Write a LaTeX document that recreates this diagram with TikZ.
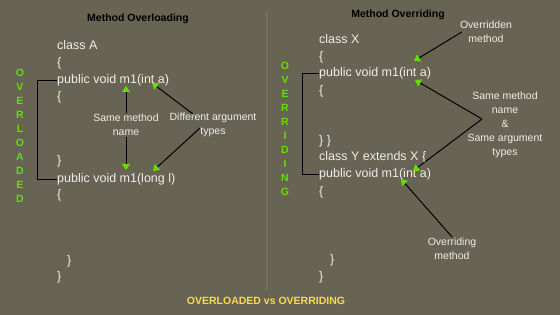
\documentclass[tikz,border=0pt]{standalone}
\usepackage{fontspec}
\setmainfont{Liberation Sans}
\usetikzlibrary{arrows.meta}
\definecolor{bgcol}{RGB}{103,100,84}
\definecolor{divcol}{RGB}{113,110,96}
\definecolor{codecol}{RGB}{238,238,232}
\definecolor{lettergreen}{RGB}{102,221,0}
\definecolor{titleyellow}{RGB}{250,218,80}
\begin{document}
\begin{tikzpicture}[x=1pt, y=-1pt,
    code/.style={anchor=base west, inner sep=0pt, text=codecol, font=\fontsize{12.5}{15}\selectfont},
    note/.style={align=center, inner sep=1pt, text=codecol, font=\fontsize{10.5}{14}\selectfont},
    heading/.style={font=\fontsize{10.5}{13}\selectfont\bfseries},
    vletter/.style={inner sep=0pt, text=lettergreen, font=\fontsize{10.5}{12}\selectfont\bfseries},
    pointer/.style={line width=1pt, -{Triangle[width=8pt, length=6pt, color=lettergreen]}},
    bracket/.style={line width=1pt}]
    % Background
    \fill[bgcol] (0,0) rectangle (560,315);
    \useasboundingbox (0,0) rectangle (560,315);
    \draw[divcol, line width=1.2pt] (267,10) -- (267,290);

    % Headings
    \node[heading] (hload) at (138,19) {Method Overloading};
    \node[heading] (hride) at (398,15) {Method Overriding};
    \node[heading, text=titleyellow] (foot) at (266,301) {OVERLOADED vs OVERRIDING};

    % Overloading code
    \node[code] (ca) at (57,50) {class A};
    \node[code] (ob1) at (57,67) {\{};
    \node[code] (pa1) at (57,83.5) {public void m1(int a)};
    \node[code] (ob2) at (57,101) {\{};
    \node[code] (cb1) at (57,164.5) {\}};
    \node[code] (pa2) at (57,182.5) {public void m1(long l)};
    \node[code] (ob3) at (57,198.5) {\{};
    \node[code] (cb2) at (67,265) {\}};
    \node[code] (cb3) at (57,281) {\}};

    % Overriding code
    \node[code] (cx) at (319,43.5) {class X};
    \node[code] (xb1) at (319,60.5) {\{};
    \node[code] (px1) at (319,76.5) {public void m1(int a)};
    \node[code] (xb2) at (319,94.5) {\{};
    \node[code] (xb3) at (319,144.5) {\} \}};
    \node[code] (cy) at (319,160.5) {class Y extends X \{};
    \node[code] (px2) at (319,178) {public void m1(int a)};
    \node[code] (yb1) at (319,195.5) {\{};
    \node[code] (yb2) at (330,263.5) {\}};
    \node[code] (yb3) at (319,280.5) {\}};

    % Vertical words
    \foreach \ch [count=\i] in {O,V,E,R,L,O,A,D,E,D}
        \node[vletter] (ld\i) at (20,59+14*\i) {\ch};
    \foreach \ch [count=\i] in {O,V,E,R,R,I,D,I,N,G}
        \node[vletter] (rd\i) at (285,52+14*\i) {\ch};

    % Brackets
    \draw[bracket] (pa1.west) -- ++(-20,0) |- (pa2.west);
    \draw[bracket] (px1.west) -- ++(-17,0) |- (px2.west);

    % Notes
    \node[note] (same) at (126,125) {Same method\\name};
    \node[note] (diff) at (213,125) {Different argument\\types};
    \node[note] (ovn) at (486,32) {Overridden\\method};
    \node[note] (samesig) at (505,125) {Same method\\name\\\&\\Same argument\\types};
    \node[note] (ovg) at (452,249) {Overriding\\method};

    % Arrow ends
    \coordinate (sametop) at (126,86);
    \coordinate (samebot) at (126,170);
    \coordinate (diffsrc1) at (193,114);
    \coordinate (diffsrc2) at (200,128);
    \coordinate (difftop) at (152,83);
    \coordinate (diffbot) at (153,171);
    \coordinate (ovntip) at (414,61);
    \coordinate (sigsrc) at (482,119);
    \coordinate (sigtop) at (415,80);
    \coordinate (sigbot) at (413,171);
    \coordinate (ovgtip) at (401,179);

    % Arrows
    \draw[pointer] (same.north) -- (sametop);
    \draw[pointer] (same.south) -- (samebot);
    \draw[pointer] (diffsrc1) -- (difftop);
    \draw[pointer] (diffsrc2) -- (diffbot);
    \draw[pointer] ([xshift=3pt]ovn.west) -- (ovntip);
    \draw[pointer] (sigsrc) -- (sigtop);
    \draw[pointer] (sigsrc) -- (sigbot);
    \draw[pointer] (ovg.north) -- (ovgtip);
\end{tikzpicture}
\end{document}
